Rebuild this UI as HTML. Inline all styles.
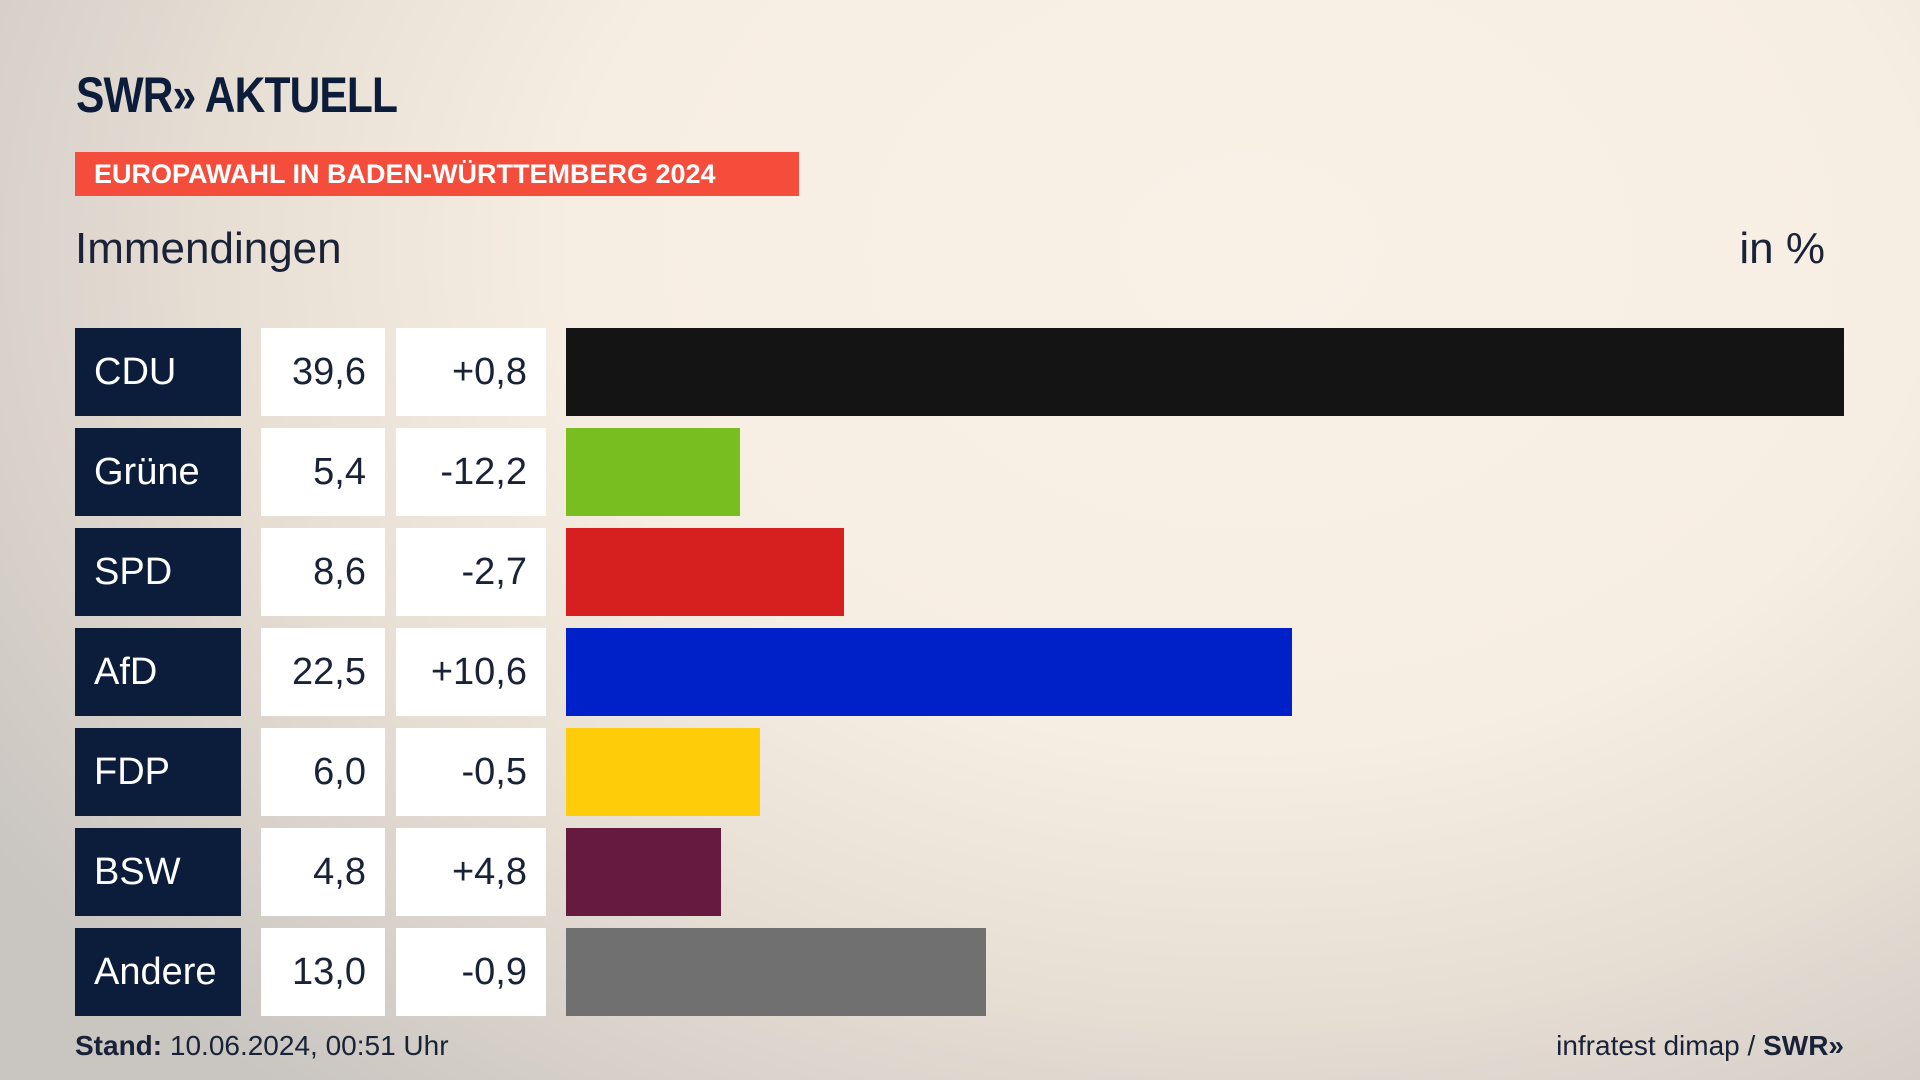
<!DOCTYPE html>
<html><head><meta charset="utf-8">
<style>
html,body{margin:0;padding:0}
body{width:1920px;height:1080px;overflow:hidden;position:relative;font-family:"Liberation Sans",sans-serif;
background:radial-gradient(ellipse 1500px 1100px at 1250px 250px,#f9f1e6 0%,#f7eee3 45%,#e6ddd3 70%,#c9c5c1 100%);}
.abs{position:absolute}
.logo{left:76px;top:66px;font-size:50px;font-weight:bold;color:#0b1d3a;letter-spacing:-1px;transform:scaleX(0.85);transform-origin:left top}
.banner{left:75px;top:152px;width:724px;height:44px;background:#f54d3c;color:#fff;font-weight:bold;font-size:27px;line-height:44px;padding-left:19px;box-sizing:border-box}
.title{left:75px;top:224px;font-size:44px;color:#1a2238}
.unit{right:95px;top:224px;font-size:44px;color:#1a2238}
.name{background:#0b1d3a;color:#fff;font-size:38px;line-height:88px;padding-left:19px;box-sizing:border-box}
.val,.diff{background:#fff;color:#1a2238;font-size:38px;line-height:88px;text-align:right;padding-right:19px;box-sizing:border-box}
.foot{font-size:28px;color:#1a2238;top:1030px}
</style></head><body>
<div class="abs logo">SWR» AKTUELL</div>
<div class="abs banner">EUROPAWAHL IN BADEN-WÜRTTEMBERG 2024</div>
<div class="abs title">Immendingen</div>
<div class="abs unit">in %</div>
<div id="chart"></div>
<div class="abs foot" style="left:75px"><b>Stand:</b> 10.06.2024, 00:51 Uhr</div>
<div class="abs foot" style="right:76px">infratest dimap / <b>SWR»</b></div>
<script>
const parties=["CDU","Grüne","SPD","AfD","FDP","BSW","Andere"];
const shares=[39.6,5.4,8.6,22.5,6.0,4.8,13.0];
const diffs=[0.8,-12.2,-2.7,10.6,-0.5,4.8,-0.9];
const colors=["#141414","#78be1e","#d61f1f","#0021c8","#ffcc0a","#661a40","#707070"];
const maxShare=39.6;
const x=v=>v/maxShare*1278;
const fmt=v=>v.toFixed(1).replace('.',',');
const c=document.getElementById('chart');
parties.forEach((p,i)=>{
  const top=328+i*100;
  const n=document.createElement('div');
  
  
  n.className='abs name';n.style.cssText=`left:75px;top:${top}px;width:166px;height:88px`;n.textContent=p;c.appendChild(n);
  const v=document.createElement('div');
  
  
  v.className='abs val';v.style.cssText=`left:261px;top:${top}px;width:124px;height:88px`;v.textContent=fmt(shares[i]);c.appendChild(v);
  const d=document.createElement('div');
  
  
  d.className='abs diff';d.style.cssText=`left:396px;top:${top}px;width:150px;height:88px`;d.textContent=(diffs[i]>0?'+':'')+fmt(diffs[i]);c.appendChild(d);
  const b=document.createElement('div');
  
  
  b.className='abs';b.style.cssText=`left:566px;top:${top}px;width:${x(shares[i])}px;height:88px;background:${colors[i]}`;c.appendChild(b);
});
</script>
</body></html>
